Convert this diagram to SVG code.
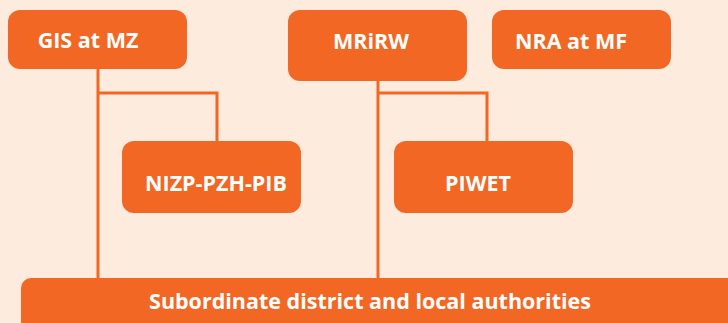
<svg xmlns="http://www.w3.org/2000/svg" width="728" height="323" viewBox="0 0 728 323">
<style>
.box{fill:#F26724;}
.lbl{font-family:"Open Sans","Liberation Sans",sans-serif;font-weight:bold;font-size:21.5px;fill:#ffffff;text-anchor:middle;}
.con{stroke:#F26724;stroke-width:3;fill:none;}
</style>
<rect width="728" height="323" fill="#FDEBDE"/>
<g id="connectors">
<path class="con" d="M98 69 V278 M98 93 H217 V141"/>
<path class="con" d="M378 81 V278 M378 93 H487 V141"/>
</g>
<g id="gis"><rect class="box" x="8" y="10" width="179" height="59" rx="12"/><text class="lbl" x="88" y="48">GIS at MZ</text></g>
<g id="mrirw"><rect class="box" x="288" y="10" width="179" height="71" rx="12"/><text class="lbl" x="371" y="49">MRiRW</text></g>
<g id="nra"><rect class="box" x="492" y="10" width="179" height="59" rx="12"/><text class="lbl" x="571" y="49">NRA at MF</text></g>
<g id="nizp"><rect class="box" x="122" y="141" width="179" height="72" rx="12"/><text class="lbl" x="216" y="191">NIZP-PZH-PIB</text></g>
<g id="piwet"><rect class="box" x="394" y="141" width="179" height="72" rx="12"/><text class="lbl" x="478" y="191">PIWET</text></g>
<g id="sub"><rect class="box" x="21" y="278" width="724" height="60" rx="10"/><text class="lbl" x="370" y="309">Subordinate district and local authorities</text></g>
</svg>
